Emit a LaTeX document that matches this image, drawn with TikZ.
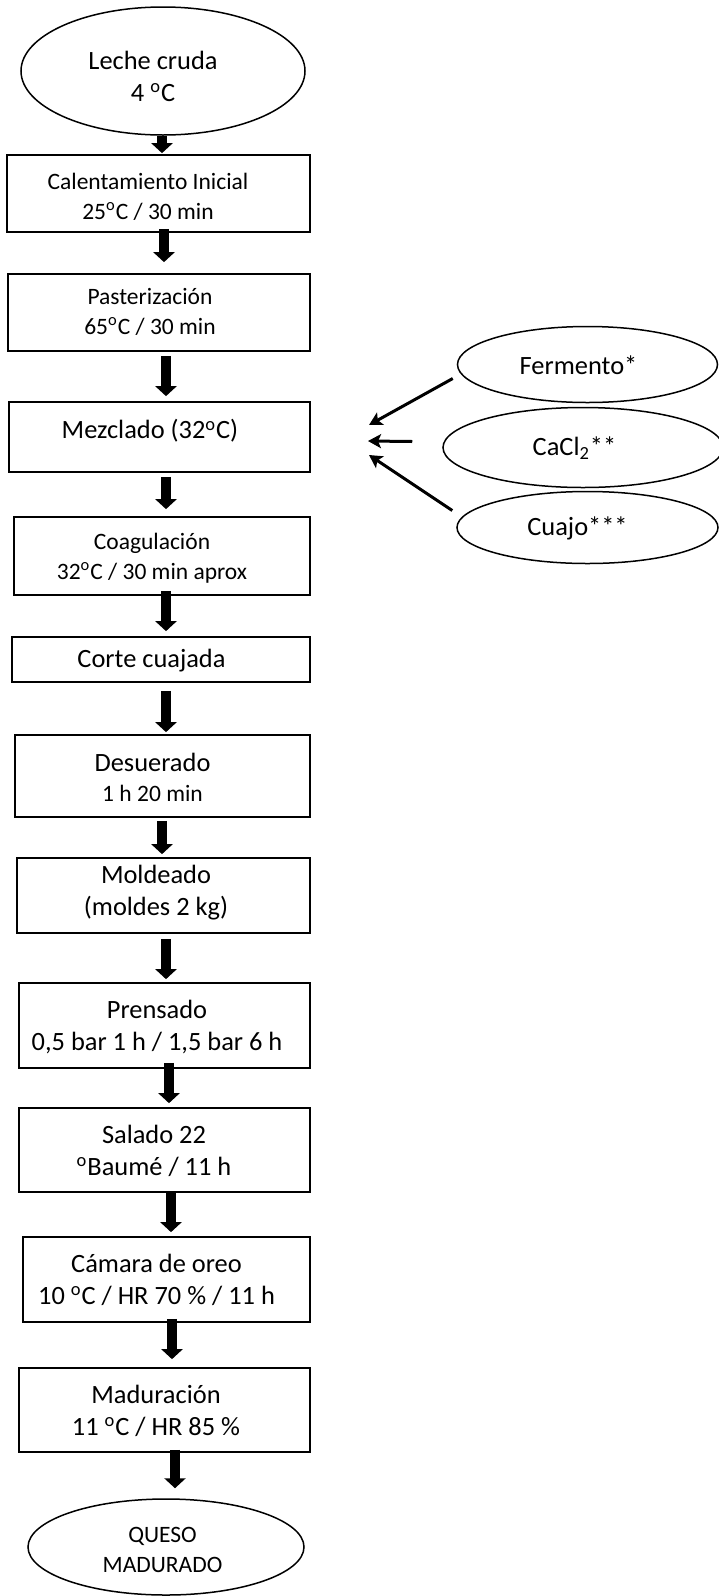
\documentclass[tikz,border=0pt]{standalone}
\usepackage{fontspec}
\setmainfont{Carlito}
\usetikzlibrary{arrows.meta,calc,shapes.geometric}

% font sizes (1 unit = 1px = 0.5pt)
\newcommand{\lgtxt}{\fontsize{13.2}{16}\selectfont}
\newcommand{\smtxt}{\fontsize{11.75}{15}\selectfont}
\newcommand{\dg}{\textsuperscript{o}}

\tikzset{
  stepbox/.style={draw=black, line width=0.85pt, rectangle, inner sep=0pt},
  endcap/.style={draw=black, line width=0.75pt, ellipse, inner sep=0pt},
  label text/.style={align=center, inner sep=0pt, text=black},
  big/.style={label text, font=\lgtxt},
  small/.style={label text, font=\smtxt},
  flow/.style={line width=5pt, -{Triangle[width=10.5pt,length=5pt]}},
  feed/.style={line width=1.5pt, -{Stealth[length=6.5pt,width=7pt,inset=1.5pt]}},
}

\begin{document}
\begin{tikzpicture}[x=0.5pt, y=-0.5pt]
\useasboundingbox[fill=white] (0,0) rectangle (718,1596);

% terminal ellipses
\node[endcap, minimum width=142pt, minimum height=64pt] (e0) at (163,71) {};
\node[endcap, minimum width=138pt, minimum height=48pt] (e1) at (166,1547) {};

% process boxes
\node[stepbox, minimum width=151.5pt, minimum height=38.5pt] (b1)  at (158.5,193.5) {};
\node[stepbox, minimum width=151pt,   minimum height=38.5pt] (b2)  at (159,312.5) {};
\node[stepbox, minimum width=150.5pt, minimum height=35pt]   (b3)  at (159.5,437) {};
\node[stepbox, minimum width=148pt,   minimum height=39pt]   (b4)  at (162,556) {};
\node[stepbox, minimum width=149pt,   minimum height=22.5pt] (b5)  at (161,659.5) {};
\node[stepbox, minimum width=147.5pt, minimum height=41pt]   (b6)  at (162.5,776) {};
\node[stepbox, minimum width=146.5pt, minimum height=37.5pt] (b7)  at (163.5,895.5) {};
\node[stepbox, minimum width=145.5pt, minimum height=42.5pt] (b8)  at (164.5,1025.5) {};
\node[stepbox, minimum width=145.5pt, minimum height=42pt]   (b9)  at (164.5,1150) {};
\node[stepbox, minimum width=143.5pt, minimum height=42.5pt] (b10) at (166.5,1279.5) {};
\node[stepbox, minimum width=145.5pt, minimum height=42pt]   (b11) at (164.5,1410) {};

% additive ellipses
\node[endcap, minimum width=130pt, minimum height=38pt] (fer) at (587.5,364.5) {};
\node[endcap, minimum width=140pt, minimum height=40pt] (cac) at (583,447.5) {};
\node[endcap, minimum width=130.5pt, minimum height=36pt] (cua) at (587.5,527.5) {};

% texts
\node[big]   (t0)  at (153,76)    {Leche cruda\\4 \dg C};
\node[small] (t1)  at (148,197)   {Calentamiento Inicial\\25\dg C / 30 min};
\node[small] (t2)  at (150,312)   {Pasterización\\65\dg C / 30 min};
\node[big]   (t3)  at (150,431)   {Mezclado (32\dg C)};
\node[small] (t4)  at (152,558)   {Coagulación\\32\dg C / 30 min aprox};
\node[big]   (t5)  at (151.5,661) {Corte cuajada};
\node[big]   (t6)  at (152.5,777) {Desuerado\\[-1pt]\smtxt 1 h 20 min};
\node[big]   (t7)  at (156,893)   {Moldeado\\(moldes 2 kg)};
\node[big]   (t8)  at (157,1027)  {Prensado\\0,5 bar 1 h / 1,5 bar 6 h};
\node[big]   (t9)  at (154,1151)  {Salado 22\\\dg Baumé / 11 h};
\node[big]   (t10) at (156.5,1280){Cámara de oreo\\10 \dg C / HR 70 \% / 11 h};
\node[big]   (t11) at (156,1411)  {Maduración\\11 \dg C / HR 85 \%};
\node[small] (t12) at (162.5,1550){QUESO\\MADURADO};
\node[big]   (tf)  at (578.5,365) {Fermento*};
\node[big]   (tc)  at (574.5,448) {CaCl\textsubscript{2}**};
\node[big]   (tq)  at (577.5,528) {Cuajo***};

% main flow arrows
\draw[flow] ($(e0.south)+(-1,0)$)     -- ($(b1.north)+(3.5,-1)$);
\draw[flow] ($(b1.south)+(5.5,-4)$)   -- ($(b2.north)+(5,-11)$);
\draw[flow] ($(b2.south)+(7,4)$)      -- ($(b3.north)+(6.5,-5)$);
\draw[flow] ($(b3.south)+(6.5,4)$)    -- ($(b4.north)+(4,-7)$);
\draw[flow] ($(b4.south)+(4,-5)$)     -- ($(b5.north)+(5,-5)$);
\draw[flow] ($(b5.south)+(5,8)$)      -- ($(b6.north)+(3.5,-2)$);
\draw[flow] ($(b6.south)+(-0.5,3)$)   -- ($(b7.north)+(-1.5,-3)$);
\draw[flow] ($(b7.south)+(2.5,5)$)    -- ($(b8.north)+(1.5,-3)$);
\draw[flow] ($(b8.south)+(4.5,-6)$)   -- ($(b9.north)+(4.5,-4)$);
\draw[flow] ($(b9.south)+(6.5,-1)$)   -- ($(b10.north)+(4.5,-4)$);
\draw[flow] ($(b10.south)+(5.5,-4)$)  -- ($(b11.north)+(7.5,-8)$);
\draw[flow] ($(b11.south)+(10.5,-3)$) -- ($(e1.north)+(9,-10)$);

% additives fed into the mixing step
\coordinate (inF) at (369,425);
\coordinate (inC) at (368,441);
\coordinate (inQ) at (369,455);
\draw[feed] ($(fer.west)+(-4,14)$)  -- (inF);
\draw[feed] ($(cac.west)+(-30,-6)$) -- (inC);
\draw[feed] ($(cua.west)+(-4,-17)$) -- (inQ);
\end{tikzpicture}
\end{document}
